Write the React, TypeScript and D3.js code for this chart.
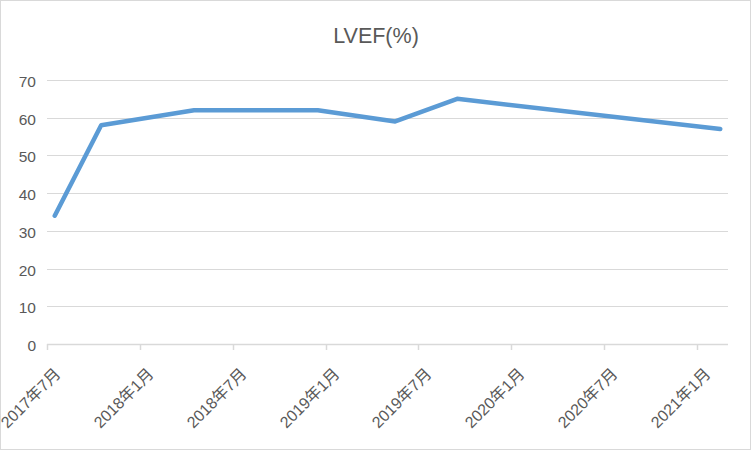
import React from "react";
import * as d3 from "d3";

const title = "LVEF(%)";
const pointMonths = ["2017-07", "2017-10", "2018-04", "2018-12", "2019-05", "2019-09", "2021-02"];
const lvefValues = [34, 58, 62, 62, 59, 65, 57];
const tickMonths = ["2017-07", "2018-01", "2018-07", "2019-01", "2019-07", "2020-01", "2020-07", "2021-01"];
const tickLabels = ["2017年7月", "2018年1月", "2018年7月", "2019年1月", "2019年7月", "2020年1月", "2020年7月", "2021年1月"];
const yTicks = [0, 10, 20, 30, 40, 50, 60, 70];

const W = 752;
const H = 452;
const FONT = "'Liberation Sans', Arial, 'Noto Sans CJK SC', sans-serif";
const TEXT = "#595959";
const GRID = "#d9d9d9";

const parse = d3.timeParse("%Y-%m");
const start = parse("2017-07")!;
const end = parse("2021-03")!;
const monthIdx = (s: string) => d3.timeMonth.count(start, parse(s)!);

export default function App() {
  const x = d3.scaleLinear().domain([0, d3.timeMonth.count(start, end)]).range([47, 728]);
  const y = d3.scaleLinear().domain([0, 70]).range([344, 80]);
  const pts: [number, number][] = pointMonths.map((m, i) => [x(monthIdx(m) + 0.5), y(lvefValues[i])]);
  const line = d3.line()(pts) || "";
  const [x0, x1] = x.range();

  return (
    <div style={{ position: "absolute", left: 0, top: 0 }}>
      <svg width={W} height={H} style={{ display: "block", background: "#fff" }}>
        <rect x={0.5} y={0.5} width={750} height={449} fill="#fff" stroke={GRID} strokeWidth={1} />
        <text x={376} y={43} textAnchor="middle" fontFamily={FONT} fontSize={21.5} fill={TEXT}>
          {title}
        </text>
        {yTicks.map((t) => (
          <g key={t}>
            {t > 0 && <line x1={x0} x2={x1} y1={Math.round(y(t)) + 0.5} y2={Math.round(y(t)) + 0.5} stroke={GRID} strokeWidth={1} />}
            <text x={36} y={y(t) + 7} textAnchor="end" fontFamily={FONT} fontSize={15.5} fill={TEXT}>
              {t}
            </text>
          </g>
        ))}
        <line x1={x0} x2={x1} y1={Math.round(y(0)) + 0.5} y2={Math.round(y(0)) + 0.5} stroke={GRID} strokeWidth={1.5} />
        {tickMonths.map((m, i) => {
          const tx = Math.round(x(monthIdx(m))) + 0.5;
          return (
            <g key={m}>
              <line x1={tx} x2={tx} y1={y(0)} y2={y(0) + 6} stroke={GRID} strokeWidth={1.5} />
              <text
                transform={`translate(${tx + 14},${y(0) + 31}) rotate(-45)`}
                textAnchor="end"
                fontFamily={FONT}
                fontSize={16}
                fill={TEXT}
              >
                {tickLabels[i]}
              </text>
            </g>
          );
        })}
        <path d={line} fill="none" stroke="#5b9bd5" strokeWidth={4.5} strokeLinecap="round" strokeLinejoin="round" />
      </svg>
    </div>
  );
}
